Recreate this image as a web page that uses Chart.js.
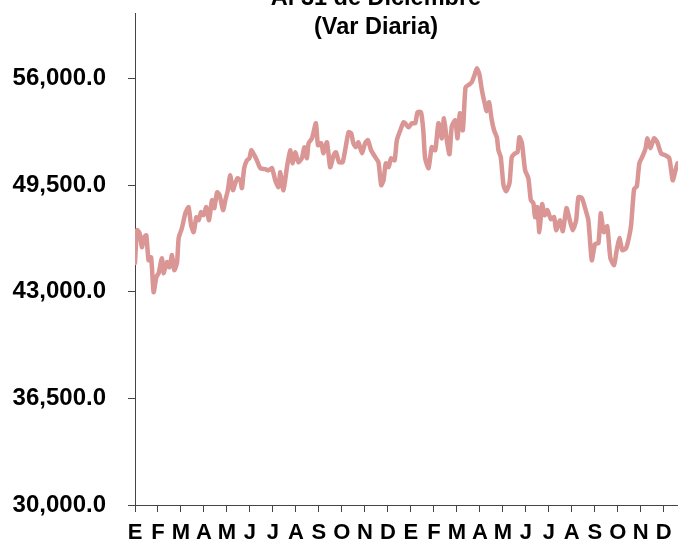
<!DOCTYPE html>
<html>
<head>
<meta charset="utf-8">
<script src="https://cdn.jsdelivr.net/npm/chart.js@4/dist/chart.umd.min.js"></script>
<style>
  html, body { margin: 0; padding: 0; background: #fff; }
  #wrap { width: 678px; height: 547px; overflow: hidden; }
</style>
</head>
<body>
<div id="wrap"><canvas id="c" width="678" height="547"></canvas></div>
<script>
const titleLines = ['Al 31 de Diciembre', '(Var Diaria)'];
const monthLabels = ['E','F','M','A','M','J','J','A','S','O','N','D','E','F','M','A','M','J','J','A','S','O','N','D'];
const yTickValues = [30000, 36500, 43000, 49500, 56000];

// position in months since start (0 = first January)
const monthPos = [
  0.00, 0.09, 0.20, 0.30, 0.40, 0.49, 0.59, 0.70, 0.81, 0.93,
  1.03, 1.17, 1.24, 1.39, 1.50, 1.61, 1.71, 1.83, 1.90, 2.04,
  2.19, 2.33, 2.44, 2.55, 2.67, 2.77, 2.87, 2.98, 3.10, 3.22,
  3.35, 3.45, 3.57, 3.68, 3.83, 3.93, 4.04, 4.14, 4.26, 4.36,
  4.46, 4.58, 4.65, 4.75, 4.87, 4.98, 5.06, 5.19, 5.30, 5.45,
  5.67, 5.81, 5.96, 6.10, 6.24, 6.32, 6.46, 6.61, 6.75, 6.85,
  6.97, 7.11, 7.26, 7.37, 7.48, 7.55, 7.70, 7.87, 7.96, 8.10,
  8.20, 8.35, 8.49, 8.64, 8.74, 8.88, 9.03, 9.14, 9.29, 9.40,
  9.50, 9.61, 9.72, 9.87, 10.01, 10.13, 10.27, 10.45, 10.59, 10.71,
  10.81, 10.91, 11.03, 11.14, 11.29, 11.39, 11.54, 11.68, 11.75, 11.90,
  12.04, 12.19, 12.29, 12.44, 12.54, 12.62, 12.77, 12.91, 13.06, 13.20,
  13.35, 13.44, 13.57, 13.68, 13.78, 13.93, 14.03, 14.13, 14.26, 14.38,
  14.55, 14.65, 14.75, 14.87, 14.98, 15.09, 15.20, 15.30, 15.40, 15.52,
  15.62, 15.74, 15.81, 15.91, 16.03, 16.14, 16.29, 16.39, 16.54, 16.64,
  16.72, 16.83, 16.97, 17.11, 17.22, 17.33, 17.40, 17.50, 17.59, 17.71,
  17.82, 17.94, 18.09, 18.23, 18.32, 18.49, 18.61, 18.77, 18.90, 19.04,
  19.19, 19.29, 19.44, 19.58, 19.72, 19.87, 20.01, 20.16, 20.26, 20.39,
  20.54, 20.68, 20.84, 20.94, 21.07, 21.20, 21.36, 21.48, 21.58, 21.71,
  21.83, 21.94, 22.10, 22.21, 22.29, 22.42, 22.58, 22.72, 22.88, 23.06,
  23.24, 23.39, 23.51, 23.60
];
const values = [
  44750, 46760, 46580, 45720, 46330, 46450, 44930, 45110, 42980, 43900,
  44140, 45050, 44140, 44810, 44500, 45240, 44320, 44810, 46270, 46880,
  47790, 48160, 47060, 46640, 47550, 47370, 47860, 47670, 48160, 47370,
  48590, 48100, 49070, 48890, 47980, 48590, 49200, 50110, 49200, 49620,
  49930, 49800, 49320, 50540, 51020, 51150, 51630, 51330, 51020, 50540,
  50480, 50410, 50540, 49800, 49380, 50290, 49200, 50600, 51630, 50840,
  51510, 50900, 51150, 51820, 51150, 52060, 52360, 53280, 51940, 52060,
  51450, 52120, 50600, 51330, 51510, 50900, 50900, 51630, 52730, 52670,
  52060, 51820, 52120, 51450, 52060, 52240, 51630, 51210, 50900, 49500,
  49800, 50840, 50600, 51150, 51020, 52240, 52850, 53340, 53280, 53030,
  53280, 53280, 53950, 53950, 52850, 51150, 50540, 51820, 51630, 53280,
  52360, 53580, 52180, 51390, 53090, 53460, 52360, 53890, 52850, 55470,
  55650, 55780, 56140, 56630, 56260, 55290, 54560, 54010, 54560, 53460,
  52850, 52420, 51630, 51210, 49500, 49130, 49620, 51210, 51450, 51510,
  52420, 52060, 50410, 49930, 48590, 48400, 47550, 48160, 46640, 48340,
  47670, 47980, 47430, 47550, 46760, 47370, 46700, 48100, 47430, 46760,
  47370, 48770, 48710, 48100, 47370, 44930, 45910, 45970, 47790, 46640,
  47000, 45050, 44630, 45420, 46270, 45540, 45660, 46270, 47060, 49260,
  49440, 50840, 51330, 51750, 52360, 51750, 52360, 52120, 51450, 51330,
  51150, 49800, 50410, 50840
];

const points = monthPos.map((m, i) => ({ x: m, y: values[i] }));

const titlePlugin = {
  id: 'topTitle',
  afterDraw(chart) {
    const ctx = chart.ctx;
    ctx.save();
    ctx.fillStyle = '#000';
    ctx.font = 'bold 23.5px "Liberation Sans", Arial, sans-serif';
    ctx.textAlign = 'center';
    ctx.textBaseline = 'alphabetic';
    ctx.fillText(titleLines[0], 376, 5);
    ctx.fillText(titleLines[1], 376, 34);
    ctx.restore();
  }
};

new Chart(document.getElementById('c'), {
  type: 'line',
  data: {
    datasets: [{
      data: points,
      borderColor: 'rgb(217,150,148)',
      borderWidth: 4.5,
      pointRadius: 0,
      tension: 0.2,
      borderJoinStyle: 'round',
      borderCapStyle: 'round',
      fill: false
    }]
  },
  options: {
    responsive: false,
    animation: false,
    devicePixelRatio: 1,
    layout: { padding: { top: 13, right: 0, left: 0, bottom: 0 } },
    plugins: { legend: { display: false }, tooltip: { enabled: false }, title: { display: false } },
    scales: {
      x: {
        type: 'linear',
        min: 0,
        max: 23.62,
        afterBuildTicks(scale) { scale.ticks = monthLabels.map((_, i) => ({ value: i })); },
        afterFit(scale) { scale.height = 42; scale.paddingLeft = 0; scale.paddingRight = 0; },
        border: { display: true, color: '#444', width: 1 },
        grid: { display: true, drawOnChartArea: false, drawTicks: true, tickLength: 7, color: '#444' },
        ticks: {
          autoSkip: false,
          maxRotation: 0,
          padding: 8,
          color: '#000',
          font: { family: '"Liberation Sans", Arial, sans-serif', size: 22, weight: 'bold' },
          callback: (v) => monthLabels[Math.round(v)]
        }
      },
      y: {
        min: 30000,
        max: 60000,
        afterBuildTicks(scale) { scale.ticks = yTickValues.map(v => ({ value: v })); },
        afterFit(scale) { scale.width = 135; scale.paddingTop = 0; scale.paddingBottom = 0; },
        border: { display: true, color: '#444', width: 1 },
        grid: { display: true, drawOnChartArea: false, drawTicks: true, tickLength: 7, color: '#444' },
        ticks: {
          padding: 22,
          color: '#000',
          font: { family: '"Liberation Sans", Arial, sans-serif', size: 24, weight: 'bold' },
          callback: (v) => Number(v).toLocaleString('en-US', { minimumFractionDigits: 1, maximumFractionDigits: 1 })
        }
      }
    }
  },
  plugins: [titlePlugin]
});
</script>
</body>
</html>
